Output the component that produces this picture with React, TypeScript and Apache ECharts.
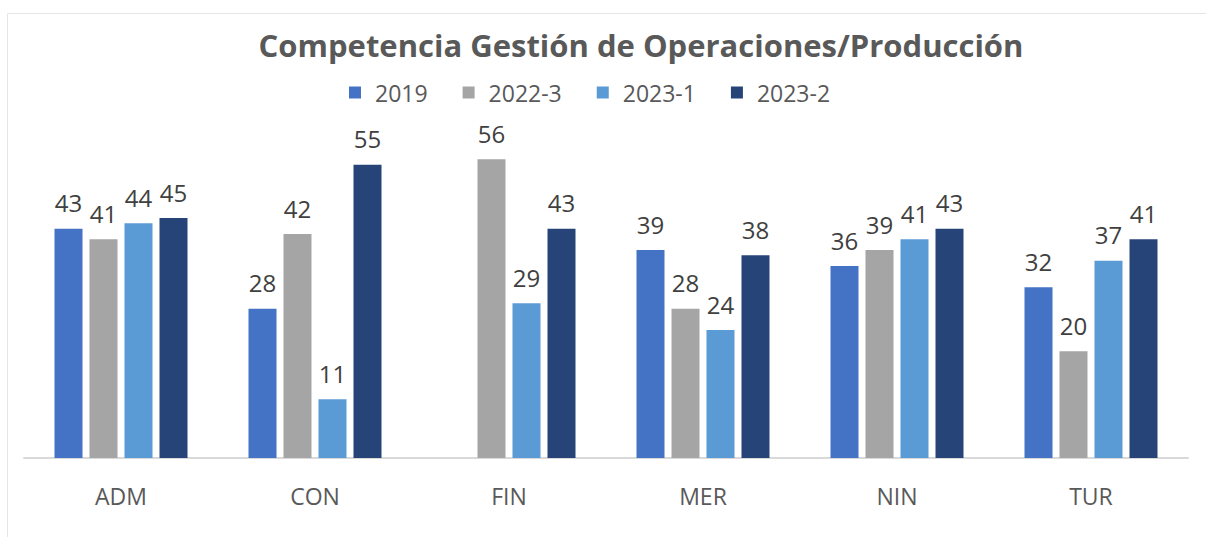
import React, { useEffect, useRef } from "react";
import * as echarts from "echarts";

const categories = ["ADM", "CON", "FIN", "MER", "NIN", "TUR"];
const seriesNames = ["2019", "2022-3", "2023-1", "2023-2"];
const values2019 = [43, 28, null, 39, 36, 32];
const values2022_3 = [41, 42, 56, 28, 39, 20];
const values2023_1 = [44, 11, 29, 24, 41, 37];
const values2023_2 = [45, 55, 43, 38, 43, 41];
const colors = ["#4472C4", "#A5A5A5", "#5B9BD5", "#264478"];

const FONT = "'Open Sans', sans-serif";

export default function App() {
  const ref = useRef<HTMLDivElement>(null);
  useEffect(() => {
    if (!ref.current) return;
    const chart = echarts.init(ref.current, undefined, { renderer: "svg" });
    const allValues = [values2019, values2022_3, values2023_1, values2023_2];
    chart.setOption({
      animation: false,
      backgroundColor: "#ffffff",
      title: {
        text: "Competencia Gestión de Operaciones/Producción",
        left: 636,
        textAlign: "center",
        top: 24,
        textStyle: {
          fontFamily: FONT,
          fontSize: 31,
          fontWeight: "bold",
          color: "#595959",
        },
      },
      legend: {
        data: seriesNames,
        top: 76,
        left: 344,
        itemWidth: 12,
        itemHeight: 12,
        itemGap: 35,
        icon: "rect",
        textStyle: {
          fontFamily: FONT,
          fontSize: 23,
          color: "#595959",
          padding: [0, 0, 0, 9],
        },
      },
      graphic: [
        {
          type: "rect",
          shape: { x: 7.5, y: 13.5, width: 1400, height: 800 },
          style: { fill: "none", stroke: "#e6e6e6", lineWidth: 1 },
          silent: true,
        },
      ],
      grid: { left: 24, right: 18, top: 138, bottom: 79 },
      xAxis: {
        type: "category",
        data: categories,
        axisLine: { show: true, lineStyle: { color: "#d9d9d9", width: 2 } },
        axisTick: { show: false },
        axisLabel: {
          fontFamily: FONT,
          fontSize: 23,
          color: "#595959",
          margin: 26,
        },
      },
      yAxis: {
        type: "value",
        min: 0,
        max: 60,
        show: false,
        splitLine: { show: false },
      },
      series: seriesNames.map((name, i) => ({
        name,
        type: "bar",
        data: allValues[i],
        barWidth: 28,
        barGap: "25%",
        itemStyle: { color: colors[i] },
        label: {
          show: true,
          position: "top",
          distance: 14,
          fontFamily: FONT,
          fontSize: 24,
          color: "#404040",
        },
      })),
    });
    return () => chart.dispose();
  }, []);
  return (
    <div
      ref={ref}
      style={{ position: "fixed", left: 0, top: 0, width: 1206, height: 537 }}
    />
  );
}
